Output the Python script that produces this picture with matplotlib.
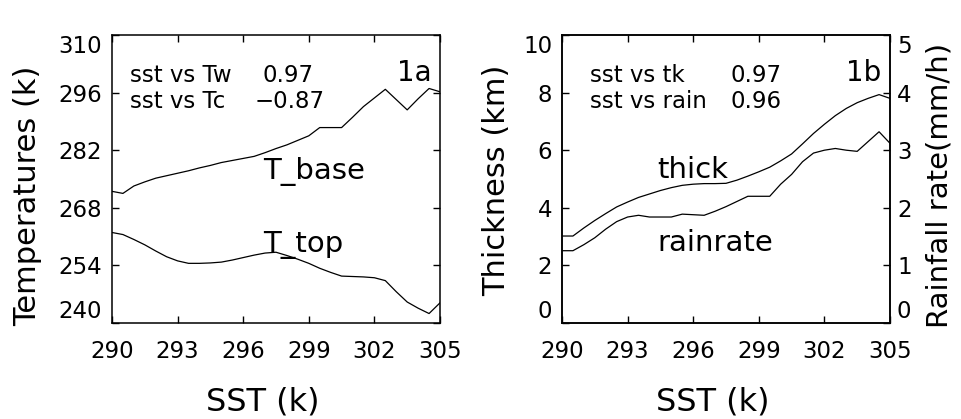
import matplotlib
matplotlib.use("Agg")
import matplotlib.pyplot as plt
import numpy as np

# SST bins (K)
sst = np.arange(290.0, 305.01, 0.5)

# panel 1a: temperatures (K)
t_base = [272.0, 271.5, 273.3, 274.3, 275.2, 275.8, 276.4, 277.0, 277.7, 278.3,
          279.0, 279.5, 280.0, 280.5, 281.4, 282.4, 283.3, 284.4, 285.5, 287.5,
          287.5, 287.5, 290.0, 292.6, 294.7, 296.8, 294.3, 291.8, 294.5, 297.0,
          296.2]
t_top = [262.0, 261.5, 260.3, 259.0, 257.5, 256.1, 255.1, 254.5, 254.5, 254.6,
         254.8, 255.3, 255.9, 256.5, 257.0, 257.2, 256.4, 255.5, 254.5, 253.3,
         252.3, 251.4, 251.3, 251.2, 251.0, 250.3, 247.6, 245.1, 243.6, 242.3,
         244.9]

# panel 1b: thickness (km) and rain rate (mm/h)
thick = [3.02, 3.02, 3.30, 3.56, 3.80, 4.03, 4.20, 4.36, 4.48, 4.60,
         4.70, 4.78, 4.82, 4.84, 4.84, 4.85, 4.96, 5.10, 5.25, 5.41,
         5.63, 5.87, 6.22, 6.58, 6.90, 7.20, 7.45, 7.65, 7.80, 7.93,
         7.80]
rain = [1.255, 1.255, 1.36, 1.48, 1.63, 1.76, 1.84, 1.87, 1.84, 1.84,
        1.84, 1.89, 1.88, 1.87, 1.94, 2.02, 2.11, 2.20, 2.20, 2.20,
        2.41, 2.58, 2.80, 2.95, 3.00, 3.03, 3.00, 2.98, 3.15, 3.32,
        3.12]

xticks = [290, 293, 296, 299, 302, 305]
temp_ticks = [240, 254, 268, 282, 296, 310]
thick_ticks = [0, 2, 4, 6, 8, 10]
rain_ticks = [0, 1, 2, 3, 4, 5]

plt.rcParams['font.family'] = 'DejaVu Sans'
TICK = 16.5
NOTE = 16.5
BIG = 21
LAB = 23
LW = 0.9

fig = plt.figure(figsize=(9.61, 4.19), dpi=100)
ax1 = fig.add_axes([112 / 961, 96 / 419, 328 / 961, 288 / 419])
ax2 = fig.add_axes([562 / 961, 96 / 419, 328 / 961, 288 / 419])


def style(ax, right=True):
    for s in ax.spines.values():
        s.set_linewidth(1.1)
    ax.tick_params(direction='in', length=5, width=1, labelsize=TICK,
                   top=True, right=right)
    ax.tick_params(axis='x', pad=12)
    ax.tick_params(axis='y', pad=7)


def nudge_ends(axis, side=1):
    ticks = axis.get_major_ticks()
    lab = 'label1' if side == 1 else 'label2'
    getattr(ticks[0], lab).set_va('bottom')
    getattr(ticks[-1], lab).set_va('top')


def px(ax, x, y):
    # figure pixel position (from top-left) -> axes fraction
    l, b, w, h = ax.get_position().bounds
    return ((x / 961 - l) / w, ((419 - y) / 419 - b) / h)


def note(ax, x, y, s, size):
    ax.text(*px(ax, x, y), s, transform=ax.transAxes, fontsize=size,
            va='center')


# ---- 1a
ax1.plot(sst, t_base, color='black', lw=LW)
ax1.plot(sst, t_top, color='black', lw=LW)
ax1.set_xlim(290, 305)
ax1.set_ylim(240, 310)
ax1.set_xticks(xticks)
ax1.set_yticks(temp_ticks)
style(ax1)
nudge_ends(ax1.yaxis)
ax1.set_xlabel('SST (k)', fontsize=LAB)
ax1.xaxis.set_label_coords(0.46, -0.275)
ax1.xaxis.label.set_va('center')
ax1.set_ylabel('Temperatures (k)', fontsize=LAB - 1)
ax1.yaxis.set_label_coords(-0.256, 0.44)
ax1.yaxis.label.set_va('center')

note(ax1, 130, 75, 'sst vs Tw', NOTE)
note(ax1, 262, 75, '0.97', NOTE)
note(ax1, 130, 102, 'sst vs Tc', NOTE)
note(ax1, 255, 102, '\u22120.87', NOTE)
note(ax1, 397, 73, '1a', BIG - 1)
note(ax1, 263, 172, 'T_base', BIG)
note(ax1, 263, 245, 'T_top', BIG)

# ---- 1b
ax2.plot(sst, thick, color='black', lw=LW)
ax2.set_xlim(290, 305)
ax2.set_ylim(0, 10)
ax2.set_xticks(xticks)
ax2.set_yticks(thick_ticks)
style(ax2, right=False)
nudge_ends(ax2.yaxis)
ax2.set_xlabel('SST (k)', fontsize=LAB)
ax2.xaxis.set_label_coords(0.46, -0.275)
ax2.xaxis.label.set_va('center')
ax2.set_ylabel('Thickness (km)', fontsize=LAB - 1)
ax2.yaxis.set_label_coords(-0.198, 0.497)
ax2.yaxis.label.set_va('center')

ax3 = ax2.twinx()
ax3.plot(sst, rain, color='black', lw=LW)
ax3.set_ylim(0, 5)
ax3.set_yticks(rain_ticks)
for s in ax3.spines.values():
    s.set_linewidth(1.1)
ax3.tick_params(direction='in', length=5, width=1, labelsize=TICK, pad=5)
nudge_ends(ax3.yaxis, side=2)
ax3.set_ylabel('Rainfall rate(mm/h)', fontsize=LAB - 2)
ax3.yaxis.set_label_coords(1.152, 0.479)
ax3.yaxis.label.set_va('center')

note(ax2, 590, 75, 'sst vs tk', NOTE)
note(ax2, 730, 75, '0.97', NOTE)
note(ax2, 590, 102, 'sst vs rain', NOTE)
note(ax2, 730, 102, '0.96', NOTE)
note(ax2, 846, 73, '1b', BIG - 1)
note(ax2, 657, 170, 'thick', BIG)
note(ax2, 657, 243, 'rainrate', BIG)

fig.savefig('out.png', dpi=100)
